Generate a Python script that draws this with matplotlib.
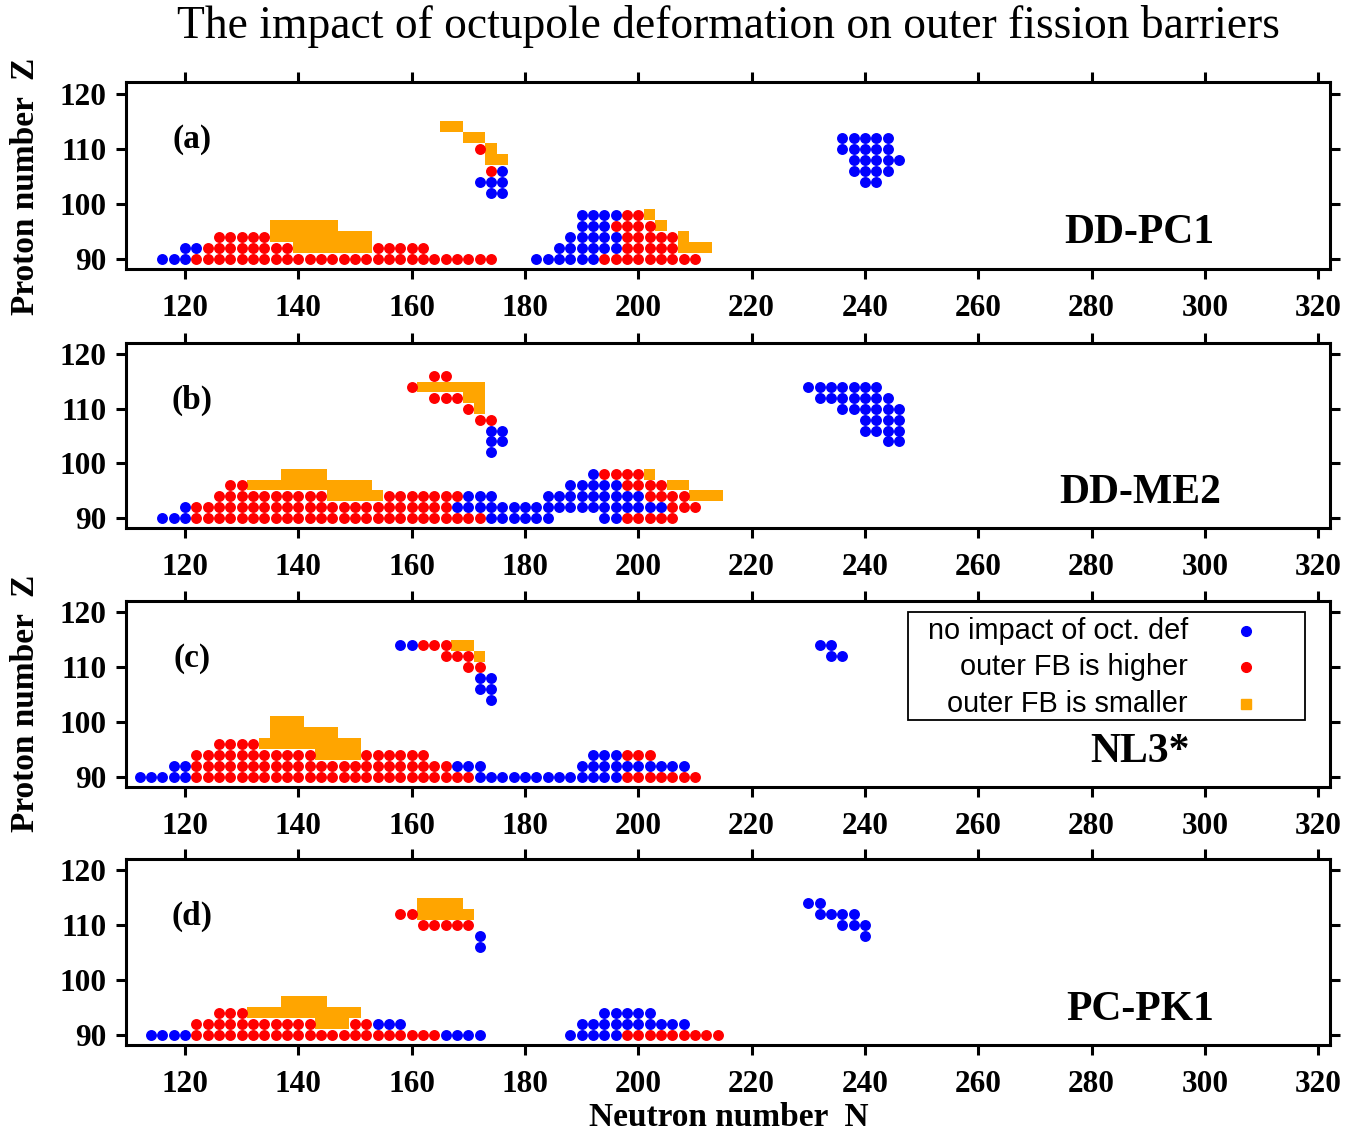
import numpy as np
import matplotlib.pyplot as plt
from matplotlib.patches import Rectangle

plt.rcParams['font.family'] = ['Liberation Serif', 'DejaVu Serif']
plt.rcParams['font.weight'] = 'bold'

# each row: (Z, first N, last N), nuclei at every even N in between
a_blue = [(90, 116, 120), (92, 120, 122), (102, 174, 176), (104, 172, 176),
          (106, 176, 176), (90, 182, 192), (92, 186, 196), (94, 188, 196),
          (96, 190, 194), (98, 190, 196), (112, 236, 244), (110, 236, 244),
          (108, 238, 246), (106, 238, 244), (104, 240, 242)]
a_red = [(90, 122, 174), (92, 124, 138), (92, 154, 162), (94, 126, 134),
         (110, 172, 172), (106, 174, 174), (90, 194, 210), (92, 198, 206),
         (94, 198, 206), (96, 196, 202), (98, 198, 200)]
a_orange = [(92, 140, 152), (94, 136, 152), (96, 136, 146), (114, 166, 168),
            (112, 170, 172), (110, 174, 174), (108, 174, 176), (98, 202, 202),
            (96, 204, 204), (94, 208, 208), (92, 208, 212)]

b_blue = [(90, 116, 120), (92, 120, 120), (90, 174, 184), (90, 194, 196),
          (92, 168, 204), (94, 170, 174), (94, 184, 200), (96, 188, 196),
          (98, 192, 192), (106, 174, 176), (104, 174, 176), (102, 174, 174),
          (114, 230, 242), (112, 232, 244), (110, 236, 246), (108, 240, 246),
          (106, 240, 246), (104, 244, 246)]
b_red = [(90, 122, 172), (92, 122, 166), (94, 126, 144), (94, 156, 168),
         (96, 128, 130), (114, 160, 160), (116, 164, 166), (112, 164, 168),
         (110, 170, 170), (108, 172, 174), (90, 198, 206), (92, 206, 210),
         (94, 202, 208), (96, 198, 204), (98, 194, 200)]
b_orange = [(94, 146, 154), (96, 132, 152), (98, 138, 144), (114, 162, 172),
            (112, 170, 172), (110, 172, 172), (98, 202, 202), (96, 206, 208),
            (94, 210, 214)]

c_blue = [(90, 112, 120), (92, 118, 120), (92, 168, 172), (90, 172, 196),
          (92, 190, 208), (94, 192, 196), (114, 158, 160), (108, 172, 174),
          (106, 172, 174), (104, 174, 174), (114, 232, 234), (112, 234, 236)]
c_red = [(90, 122, 170), (92, 122, 166), (94, 122, 142), (94, 152, 162),
         (96, 126, 132), (114, 162, 166), (112, 166, 170), (110, 170, 172),
         (90, 198, 210), (94, 198, 202)]
c_orange = [(94, 144, 150), (96, 134, 150), (98, 136, 146), (100, 136, 140),
            (114, 168, 170), (112, 172, 172)]

d_blue = [(90, 114, 120), (90, 166, 172), (92, 154, 158), (108, 172, 172),
          (106, 172, 172), (90, 188, 196), (92, 190, 208), (94, 194, 202),
          (114, 230, 232), (112, 232, 238), (110, 236, 240), (108, 240, 240)]
d_red = [(90, 122, 164), (92, 122, 142), (92, 150, 152), (94, 126, 130),
         (112, 158, 160), (110, 162, 170), (90, 198, 214)]
d_orange = [(92, 144, 148), (94, 132, 150), (96, 138, 144), (114, 162, 168),
            (112, 162, 170)]

panel_tags = ['(a)', '(b)', '(c)', '(d)']
models = ['DD-PC1', 'DD-ME2', 'NL3*', 'PC-PK1']
legend_labels = ['no impact of oct. def', 'outer FB is higher', 'outer FB is smaller']

BLUE, RED, ORANGE = '#0000ff', '#ff0000', '#ffa500'


def expand(rows):
    n, z = [], []
    for zz, n0, n1 in rows:
        for nn in range(n0, n1 + 1, 2):
            n.append(nn)
            z.append(zz)
    return np.array(n), np.array(z)


fig = plt.figure(figsize=(13.64, 11.31), dpi=100)
boxes = [(0.7622, 0.1653), (0.5332, 0.1636), (0.3042, 0.1645), (0.0760, 0.1645)]
data = [(a_blue, a_red, a_orange), (b_blue, b_red, b_orange),
        (c_blue, c_red, c_orange), (d_blue, d_red, d_orange)]

axes = []
for i, (bottom, height) in enumerate(boxes):
    ax = fig.add_axes([0.0924, bottom, 0.8827, height])
    blue, red, orange = data[i]
    on, oz = expand(orange)
    for nn, zz in zip(on, oz):
        ax.add_patch(Rectangle((nn - 1, zz - 1), 2, 2, fc=ORANGE, ec='none'))
    bn, bz = expand(blue)
    ax.scatter(bn, bz, s=62, c=BLUE, linewidths=0, zorder=3)
    rn, rz = expand(red)
    ax.scatter(rn, rz, s=62, c=RED, linewidths=0, zorder=3)

    ax.set_xlim(109.6, 322.1)
    ax.set_ylim(88.1, 122.1)
    ax.set_xticks(range(120, 321, 20))
    ax.set_yticks([90, 100, 110, 120])
    ax.tick_params(direction='out', length=7, width=2.2, top=True, right=True,
                   labelsize=22.5)
    ax.tick_params(axis='x', pad=11)
    ax.tick_params(axis='y', pad=7)
    for sp in ax.spines.values():
        sp.set_linewidth(2.2)

    ax.text(0.055, 0.69, panel_tags[i], transform=ax.transAxes, fontsize=24,
            ha='center', va='center')
    ax.text(0.842, 0.19, models[i], transform=ax.transAxes, fontsize=30,
            ha='center', va='center')
    axes.append(ax)

# legend in panel (c), drawn by hand
axc = axes[2]
axc.add_patch(Rectangle((0.6495, 0.36), 0.3295, 0.581, transform=axc.transAxes,
                        fc='white', ec='black', lw=1.3, zorder=5))
for lab, col, mk, y in zip(legend_labels, [BLUE, RED, ORANGE], ['o', 'o', 's'],
                           [0.839, 0.645, 0.446]):
    axc.text(0.882, y, lab, transform=axc.transAxes, ha='right', va='center',
             fontsize=20.8, fontweight='normal', family='Liberation Sans', zorder=6)
    axc.plot([0.930], [y], marker=mk, ms=7, color=col, ls='none',
             transform=axc.transAxes, zorder=6)

fig.text(0.534, 0.977, 'The impact of octupole deformation on outer fission barriers',
         ha='center', va='center', fontsize=32.8, fontweight='normal')
fig.text(0.019, 1 - 186 / 1131, 'Proton number  Z', rotation=90, ha='center',
         va='center', fontsize=24)
fig.text(0.019, 1 - 703 / 1131, 'Proton number  Z', rotation=90, ha='center',
         va='center', fontsize=24)
fig.text(0.534, 1 - 1118 / 1131, 'Neutron number  N', ha='center', va='center',
         fontsize=24)

fig.savefig('out.png', dpi=100)
